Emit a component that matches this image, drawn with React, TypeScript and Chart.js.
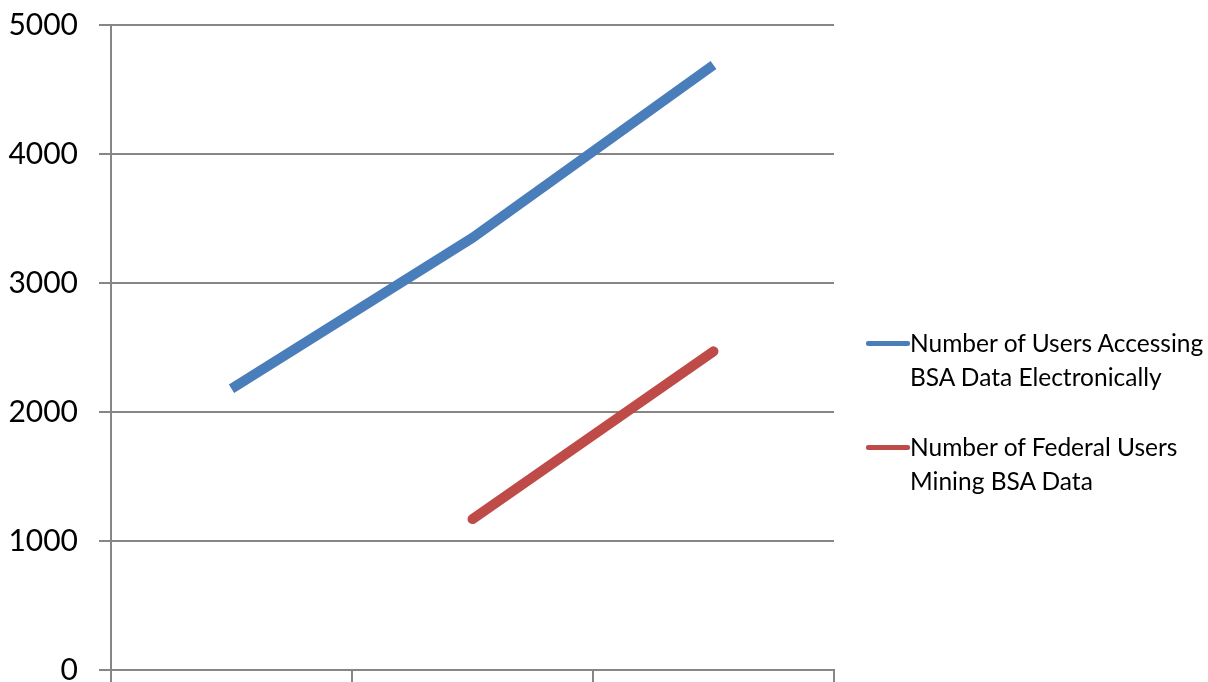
import React, { useEffect, useRef } from "react";
import { Chart, registerables } from "chart.js";

Chart.register(...registerables);

const categories = ["", "", ""];
const usersAccessing = [2180, 3350, 4690];
const federalMining = [null, 1170, 2470];
const seriesNames = [
  ["Number of Users Accessing", "BSA Data Electronically"],
  ["Number of Federal Users", "Mining BSA Data"],
];
const seriesColors = ["#4A7EBB", "#BE4B48"];
const FONT = "Lato, 'Liberation Sans', sans-serif";

export default function App() {
  const ref = useRef<HTMLCanvasElement | null>(null);
  useEffect(() => {
    if (!ref.current) return;
    const chart = new Chart(ref.current, {
      type: "line",
      data: {
        labels: categories,
        datasets: [
          {
            label: seriesNames[0].join(" "),
            data: usersAccessing,
            borderColor: seriesColors[0],
            backgroundColor: seriesColors[0],
            borderWidth: 10,
            borderCapStyle: "butt",
            pointRadius: 0,
            tension: 0,
          },
          {
            label: seriesNames[1].join(" "),
            data: federalMining,
            borderColor: seriesColors[1],
            backgroundColor: seriesColors[1],
            borderWidth: 10,
            borderCapStyle: "round",
            pointRadius: 0,
            tension: 0,
          },
        ],
      },
      options: {
        animation: false,
        responsive: false,
        maintainAspectRatio: false,
        layout: { padding: { left: 0, top: 25, right: 374, bottom: 0 } },
        plugins: { legend: { display: false }, tooltip: { enabled: false } },
        scales: {
          x: {
            type: "category",
            offset: true,
            grid: {
              offset: true,
              drawOnChartArea: false,
              drawTicks: true,
              tickLength: 12,
              color: "#868686",
              lineWidth: 2,
            },
            border: { color: "#868686", width: 2 },
            ticks: { display: false },
            afterFit: (s: any) => {
              s.height = 12;
            },
          },
          y: {
            min: 0,
            max: 5000,
            ticks: {
              stepSize: 1000,
              padding: 21,
              color: "#000",
              font: { family: FONT, size: 30 },
              callback: (v: any) => String(v),
            },
            grid: { color: "#868686", lineWidth: 2, tickLength: 12 },
            border: { color: "#868686", width: 2 },
            afterFit: (s: any) => {
              s.width = 111;
              s.paddingTop = 0;
              s.paddingBottom = 0;
            },
          },
        },
      },
    });
    return () => chart.destroy();
  }, []);

  const legendTops = [326, 430];
  return (
    <div style={{ position: "absolute", left: 0, top: 0, width: 1208, height: 682, background: "#fff" }}>
      <canvas ref={ref} width={1208} height={682} style={{ position: "absolute", left: 0, top: 0 }} />
      {seriesNames.map((lines, i) => (
        <div key={i} style={{ position: "absolute", left: 866, top: legendTops[i] }}>
          <div
            style={{
              position: "absolute",
              left: 0,
              top: 15,
              width: 44,
              height: 5,
              background: seriesColors[i],
              borderRadius: 2,
            }}
          />
          <div
            style={{
              position: "absolute",
              left: 44,
              top: 0,
              whiteSpace: "nowrap",
              fontFamily: FONT,
              fontSize: 24.5,
              lineHeight: "34px",
              color: "#000",
            }}
          >
            {lines.map((t, j) => (
              <div key={j}>{t}</div>
            ))}
          </div>
        </div>
      ))}
    </div>
  );
}
